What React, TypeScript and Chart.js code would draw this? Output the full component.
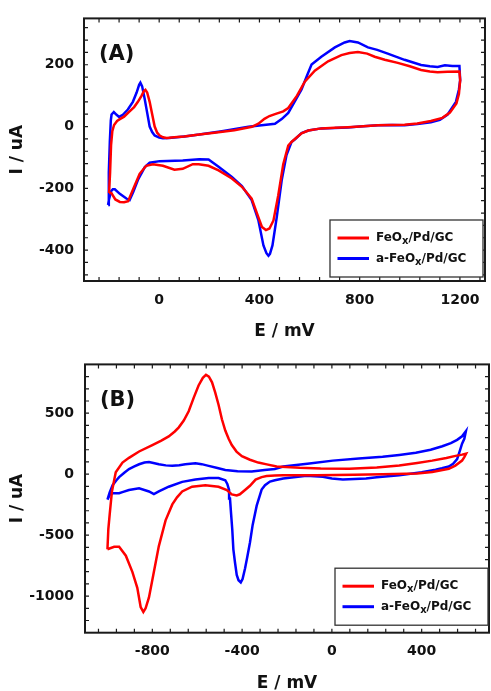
import React, { useEffect, useRef } from "react";
import { Chart, registerables } from "chart.js";

Chart.register(...registerables);

// ---------- series labels (use "_x" to mark the subscript) ----------
const seriesLabels = ["FeO_x/Pd/GC", "a-FeO_x/Pd/GC"];
const seriesColors = ["#ff0000", "#0000ff"];

// ---------- Panel A : FeOx/Pd/GC (red) ----------
const aRedE = [
  -200, -196, -192, -187, -180, -168, -157, -140, -118, -100, -85, -70, -61, -55, -48, -38, -28, -18, -8, 2,
  15, 30, 60, 100, 160, 220, 300, 370, 396, 420, 440, 465, 495, 515, 550, 581, 621, 674, 727, 760,
  793, 830, 860, 900, 952, 1000, 1045, 1080, 1111, 1150, 1198,
  1201, 1196, 1186, 1160, 1130, 1084, 1030, 979, 920, 873, 800, 753, 700, 647, 595, 568, 545, 528, 515, 495,
  475, 456, 440, 426, 410, 396, 369, 330, 290, 237, 197, 158, 134, 94, 61, 15, -25, -52, -78, -104,
  -124, -140, -157, -175, -191, -200,
];
const aRedI = [
  -215, -150, -60, -15, 5, 18, 24, 32, 49, 63, 80, 100, 115, 119, 110, 80, 40, 0, -20, -29,
  -35, -37, -35, -32, -26, -20, -12, -1, 9, 25, 34, 41, 49, 60, 100, 145, 181, 211, 231, 238,
  241, 236, 226, 216, 206, 195, 183, 178, 176, 177, 178,
  150, 105, 75, 45, 28, 18, 10, 6, 5, 4, 0, -2, -4, -6, -13, -22, -38, -50, -62, -122,
  -223, -304, -330, -335, -325, -294, -233, -195, -168, -142, -127, -122, -122, -137, -140, -127, -122, -127, -153, -203,
  -242, -245, -244, -236, -215, -215,
];

// ---------- Panel A : a-FeOx/Pd/GC (blue) ----------
const aBlueE = [
  -204, -201, -197, -193, -190, -181, -170, -160, -145, -125, -105, -90, -80, -75, -68, -58, -48, -38, -28, -18,
  0, 15, 40, 100, 160, 250, 356, 400, 462, 490, 515, 540, 568, 590, 608, 647, 701, 740, 760, 793,
  833, 870, 912, 979, 1045, 1080, 1111, 1140, 1170, 1198,
  1201, 1196, 1184, 1151, 1120, 1084, 1030, 979, 930, 873, 800, 753, 700, 647, 595, 568, 542, 528, 508, 489,
  469, 452, 442, 436, 428, 416, 396, 369, 330, 290, 237, 197, 160, 94, 2, -38, -58, -85, -104, -118,
  -131, -157, -177, -185, -191, -200, -204,
];
const aBlueI = [
  -254, -150, -50, 20, 39, 47, 38, 31, 38, 55, 80, 110, 135, 142, 130, 90, 45, 0, -18, -29,
  -36, -38, -37, -32, -26, -15, -1, 3, 9, 25, 44, 80, 120, 165, 201, 226, 256, 272, 277, 272,
  256, 248, 236, 216, 199, 195, 193, 198, 196, 196,
  150, 120, 80, 39, 22, 14, 8, 4, 5, 4, 0, -3, -5, -6, -13, -21, -41, -50, -92, -173,
  -294, -385, -412, -418, -410, -385, -304, -238, -193, -163, -130, -107, -106, -110, -112, -117, -132, -173, -213, -238,
  -233, -218, -203, -203, -208, -235, -254,
];

// ---------- Panel B : FeOx/Pd/GC (red) ----------
const bRedE = [
  -1000, -996, -990, -980, -963, -933, -904, -859, -800, -760, -727, -700, -682, -660, -638, -615, -594, -575, -561, -548,
  -534, -520, -505, -490, -475, -460, -446, -425, -401, -365, -328, -290, -246, -143, -50, 78, 200, 300, 380, 447,
  510, 551, 580, 598,
  590, 580, 550, 521, 447, 380, 226, 100, -69, -217, -254, -291, -313, -340, -365, -387, -410, -424, -446, -468,
  -505, -564, -623, -667, -690, -711, -741, -771, -793, -815, -830, -840, -852, -867, -889, -918, -948, -970, -1000,
];
const bRedI = [
  -616, -450, -330, -142, 16, 95, 134, 186, 239, 275, 310, 350, 384, 440, 516, 630, 727, 790, 814, 800,
  753, 670, 569, 450, 358, 290, 239, 185, 147, 118, 95, 80, 63, 52, 46, 44, 55, 71, 92, 111,
  132, 150, 160, 168,
  140, 111, 70, 44, 18, 6, 0, -4, -8, -8, -11, -16, -24, -45, -95, -130, -165, -174, -166, -130,
  -103, -90, -103, -142, -190, -248, -379, -590, -801, -1011, -1100, -1130, -1090, -932, -801, -669, -596, -596, -616,
];

// ---------- Panel B : a-FeOx/Pd/GC (blue) ----------
const bBlueE = [
  -1000, -990, -977, -960, -948, -925, -904, -880, -859, -835, -815, -795, -771, -740, -711, -680, -653, -608, -580, -549,
  -510, -475, -420, -357, -300, -254, -217, -100, 4, 120, 226, 300, 374, 440, 492, 530, 558, 580, 597,
  590, 580, 570, 558, 540, 521, 490, 462, 400, 300, 200, 152, 49, 0, -40, -113, -217, -254, -276, -298,
  -313, -335, -353, -365, -377, -387, -398, -406, -416, -424, -432, -439, -444, -449, -454, -458, -466, -475, -505, -549,
  -608, -667, -727, -771, -793, -815, -859, -904, -930, -948, -977, -990, -1000,
];
const bBlueI = [
  -209, -150, -90, -50, -24, 12, 42, 63, 81, 95, 100, 92, 81, 72, 68, 74, 81, 89, 82, 68,
  50, 34, 24, 21, 35, 42, 63, 88, 111, 128, 142, 158, 176, 200, 229, 255, 281, 310, 352,
  290, 250, 190, 123, 85, 63, 48, 36, 15, -8, -25, -35, -43, -35, -21, -13, -35, -50, -61, -90,
  -126, -258, -416, -560, -680, -774, -860, -888, -870, -827, -720, -616, -450, -327, -200, -130, -80, -50, -32, -32,
  -43, -63, -103, -142, -164, -142, -116, -130, -145, -156, -156, -170, -209,
];

// ---------- axes ----------
const aXRange = [-300, 1300];
const aYRange = [-500, 350];
const aXMajor = [0, 400, 800, 1200];
const aYMajor = [-400, -200, 0, 200];
const aXMinorStep = 80;
const aYMinorStep = 40;

const bXRange = [-1100, 700];
const bYRange = [-1300, 900];
const bXMajor = [-800, -400, 0, 400];
const bYMajor = [-1000, -500, 0, 500];
const bXMinorStep = 80;
const bYMinorStep = 100;

const xTitle = "E / mV";
const yTitle = "I / uA";

const FONT = "'DejaVu Sans', 'Liberation Sans', Arial, sans-serif";

function stepValues(min: number, max: number, step: number): number[] {
  const out: number[] = [];
  for (let k = Math.ceil(min / step); k * step <= max; k++) out.push(k * step);
  return out;
}

function pts(E: number[], I: number[]) {
  return E.map((e, i) => ({ x: e, y: I[i] }));
}

function drawSubText(ctx: CanvasRenderingContext2D, text: string, x: number, y: number, size: number) {
  const parts = text.split("_");
  let cx = x;
  ctx.textAlign = "left";
  ctx.textBaseline = "alphabetic";
  parts.forEach((p, idx) => {
    if (idx === 0) {
      ctx.font = `bold ${size}px ${FONT}`;
      ctx.fillText(p, cx, y);
      cx += ctx.measureText(p).width;
    } else {
      const sub = p.charAt(0);
      const rest = p.slice(1);
      ctx.font = `bold ${size - 2}px ${FONT}`;
      ctx.fillText(sub, cx, y + 3);
      cx += ctx.measureText(sub).width;
      ctx.font = `bold ${size}px ${FONT}`;
      ctx.fillText(rest, cx, y);
      cx += ctx.measureText(rest).width;
    }
  });
}

const framePlugin = {
  id: "frameDeco",
  afterDraw(chart: any, _args: any, opts: any) {
    const { ctx, chartArea } = chart;
    const { left, right, top, bottom } = chartArea;
    const xs = chart.scales.x;
    const ys = chart.scales.y;
    ctx.save();
    ctx.strokeStyle = "#1a1a1a";
    ctx.lineWidth = 1.2;
    const tickLen = 4;
    ctx.beginPath();
    xs.ticks.forEach((t: any) => {
      const p = xs.getPixelForValue(t.value);
      if (p <= left + 1 || p >= right - 1) return;
      ctx.moveTo(p, bottom);
      ctx.lineTo(p, bottom - tickLen);
      ctx.moveTo(p, top);
      ctx.lineTo(p, top + tickLen);
    });
    ys.ticks.forEach((t: any) => {
      const p = ys.getPixelForValue(t.value);
      if (p <= top + 1 || p >= bottom - 1) return;
      ctx.moveTo(left, p);
      ctx.lineTo(left + tickLen, p);
      ctx.moveTo(right, p);
      ctx.lineTo(right - tickLen, p);
    });
    ctx.stroke();

    // frame
    ctx.lineWidth = 2;
    ctx.strokeStyle = "#1a1a1a";
    ctx.strokeRect(left, top, right - left, bottom - top);

    // legend
    const lw = 153;
    const lh = 57;
    const bx = right - opts.legendRight - lw;
    const by = bottom - opts.legendBottom - lh;
    ctx.fillStyle = "#ffffff";
    ctx.fillRect(bx, by, lw, lh);
    ctx.lineWidth = 1.3;
    ctx.strokeStyle = "#333333";
    ctx.strokeRect(bx, by, lw, lh);
    chart.data.datasets.forEach((ds: any, i: number) => {
      const ly = by + 18 + i * 20.5;
      ctx.strokeStyle = ds.borderColor;
      ctx.lineWidth = 3;
      ctx.beginPath();
      ctx.moveTo(bx + 7.5, ly);
      ctx.lineTo(bx + 39, ly);
      ctx.stroke();
      ctx.fillStyle = "#111111";
      drawSubText(ctx, ds.label, bx + 46, ly + 3, 12);
    });

    // panel tag
    ctx.fillStyle = "#111111";
    ctx.font = `bold 21px ${FONT}`;
    ctx.textAlign = "left";
    ctx.textBaseline = "alphabetic";
    ctx.fillText(opts.tag, left + 15, top + 41.5);
    ctx.restore();
  },
};

interface PanelCfg {
  redE: number[]; redI: number[]; blueE: number[]; blueI: number[];
  xRange: number[]; yRange: number[]; xMajor: number[]; yMajor: number[];
  xStep: number; yStep: number;
  height: number; padTop: number; yAxisW: number; xAxisH: number;
  xTickPad: number; yTickPad: number; xTitlePad: number;
  tag: string; legendRight: number; legendBottom: number;
}

function makeChart(canvas: HTMLCanvasElement, c: PanelCfg) {
  const tickFont = { family: FONT, size: 14, weight: "bold" as const };
  const titleFont = { family: FONT, size: 17, weight: "bold" as const, lineHeight: 1 };
  return new Chart(canvas, {
    type: "scatter",
    data: {
      datasets: [
        {
          label: seriesLabels[0],
          data: pts(c.redE, c.redI),
          borderColor: seriesColors[0],
          backgroundColor: seriesColors[0],
          showLine: true,
          pointRadius: 0,
          borderWidth: 2.5,
          tension: 0,
          fill: false,
        },
        {
          label: seriesLabels[1],
          data: pts(c.blueE, c.blueI),
          borderColor: seriesColors[1],
          backgroundColor: seriesColors[1],
          showLine: true,
          pointRadius: 0,
          borderWidth: 2.5,
          tension: 0,
          fill: false,
        },
      ],
    },
    options: {
      animation: false,
      responsive: false,
      maintainAspectRatio: false,
      devicePixelRatio: 1,
      events: [],
      layout: { padding: { left: 0, right: 2, top: c.padTop, bottom: 0 } },
      plugins: {
        legend: { display: false },
        tooltip: { enabled: false },
        frameDeco: { tag: c.tag, legendRight: c.legendRight, legendBottom: c.legendBottom },
      } as any,
      scales: {
        x: {
          type: "linear",
          min: c.xRange[0],
          max: c.xRange[1],
          afterBuildTicks: (s: any) => {
            s.ticks = stepValues(c.xRange[0], c.xRange[1], c.xStep).map((v) => ({ value: v }));
          },
          afterFit: (s: any) => {
            s.height = c.xAxisH;
          },
          grid: { display: false, drawTicks: false },
          border: { display: false },
          ticks: {
            autoSkip: false,
            maxRotation: 0,
            minRotation: 0,
            padding: c.xTickPad,
            color: "#111111",
            font: tickFont,
            callback: (v: any) => (c.xMajor.includes(Number(v)) ? String(v) : ""),
          },
          title: {
            display: true,
            text: xTitle,
            color: "#111111",
            font: titleFont,
            padding: { top: 0, bottom: c.xTitlePad },
          },
        },
        y: {
          type: "linear",
          min: c.yRange[0],
          max: c.yRange[1],
          afterBuildTicks: (s: any) => {
            s.ticks = stepValues(c.yRange[0], c.yRange[1], c.yStep).map((v) => ({ value: v }));
          },
          afterFit: (s: any) => {
            s.width = c.yAxisW;
          },
          grid: { display: false, drawTicks: false },
          border: { display: false },
          ticks: {
            autoSkip: false,
            padding: c.yTickPad,
            color: "#111111",
            font: tickFont,
            callback: (v: any) => (c.yMajor.includes(Number(v)) ? String(v) : ""),
          },
          title: {
            display: true,
            text: yTitle,
            color: "#111111",
            font: titleFont,
            padding: { top: 9.5, bottom: 0 },
          },
        },
      },
    },
    plugins: [framePlugin as any],
  });
}

const panelA: PanelCfg = {
  redE: aRedE, redI: aRedI, blueE: aBlueE, blueI: aBlueI,
  xRange: aXRange, yRange: aYRange, xMajor: aXMajor, yMajor: aYMajor,
  xStep: aXMinorStep, yStep: aYMinorStep,
  height: 345, padTop: 1, yAxisW: 84, xAxisH: 64,
  xTickPad: 11, yTickPad: 10, xTitlePad: 4.8,
  tag: "(A)", legendRight: 2, legendBottom: 4,
};

const panelB: PanelCfg = {
  redE: bRedE, redI: bRedI, blueE: bBlueE, blueI: bBlueI,
  xRange: bXRange, yRange: bYRange, xMajor: bXMajor, yMajor: bYMajor,
  xStep: bXMinorStep, yStep: bYMinorStep,
  height: 346, padTop: 7.3, yAxisW: 85, xAxisH: 58.3,
  xTickPad: 10, yTickPad: 11, xTitlePad: -1.5,
  tag: "(B)", legendRight: 1, legendBottom: 7.5,
};

function Panel({ cfg, top }: { cfg: PanelCfg; top: number }) {
  const ref = useRef<HTMLCanvasElement | null>(null);
  useEffect(() => {
    if (!ref.current) return;
    const chart = makeChart(ref.current, cfg);
    return () => chart.destroy();
  }, [cfg]);
  return (
    <canvas
      ref={ref}
      width={491}
      height={cfg.height}
      style={{ position: "absolute", left: 0, top, width: 491, height: cfg.height, display: "block" }}
    />
  );
}

export default function App() {
  return (
    <div style={{ position: "absolute", left: 0, top: 0, width: 491, height: 691, background: "#ffffff", overflow: "hidden" }}>
      <Panel cfg={panelA} top={0} />
      <Panel cfg={panelB} top={345} />
    </div>
  );
}
